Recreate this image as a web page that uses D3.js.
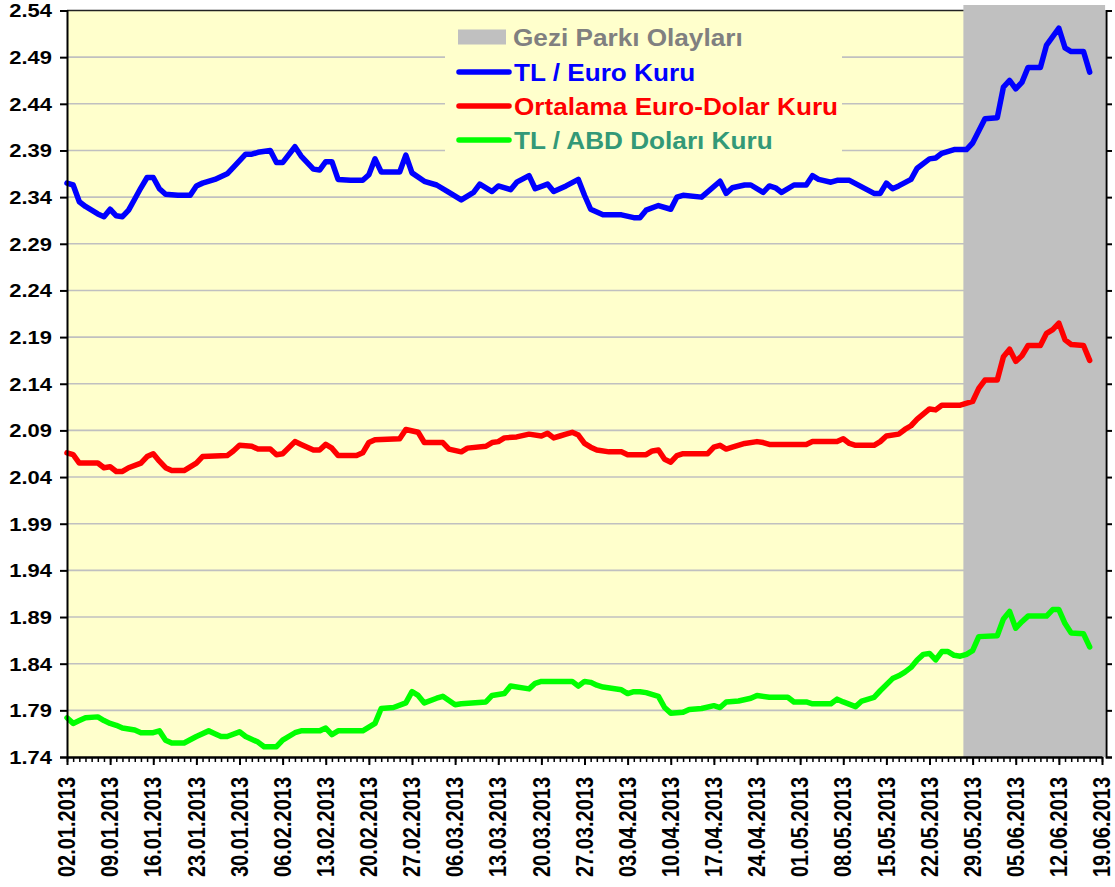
<!DOCTYPE html>
<html>
<head>
<meta charset="utf-8">
<script src="https://cdn.jsdelivr.net/npm/d3@7"></script>
<style>
  body { margin: 0; background: #fff; }
  svg { display: block; font-family: "Liberation Sans", Arial, sans-serif; }
</style>
</head>
<body>
<svg id="chart"></svg>
<script>
// values, one point per visible vertex (2013)
const euroDates = ["02.01","03.01","04.01","05.01","06.01","07.01","08.01","09.01","10.01","11.01","12.01","13.01","14.01","15.01","16.01","17.01","18.01","20.01","22.01","23.01","24.01","26.01","28.01","29.01","31.01","01.02","02.02","04.02","05.02","06.02","08.02","09.02","11.02","12.02","13.02","14.02","15.02","17.02","19.02","20.02","21.02","22.02","25.02","26.02","27.02","01.03","03.03","05.03","07.03","09.03","10.03","12.03","13.03","15.03","16.03","18.03","19.03","21.03","22.03","24.03","26.03","27.03","28.03","30.03","02.04","04.04","05.04","06.04","08.04","10.04","11.04","12.04","15.04","18.04","19.04","20.04","22.04","23.04","25.04","26.04","27.04","28.04","30.04","02.05","03.05","04.05","06.05","07.05","09.05","11.05","13.05","14.05","15.05","16.05","17.05","19.05","20.05","22.05","23.05","24.05","26.05","28.05","29.05","31.05","02.06","03.06","04.06","05.06","06.06","07.06","09.06","10.06","11.06","12.06","13.06","14.06","16.06","17.06"];
const euroValues = [2.355,2.353,2.335,2.330,2.326,2.322,2.319,2.327,2.320,2.319,2.326,2.338,2.350,2.361,2.361,2.349,2.343,2.342,2.342,2.352,2.355,2.359,2.365,2.372,2.386,2.386,2.388,2.390,2.377,2.377,2.394,2.384,2.370,2.369,2.378,2.378,2.359,2.358,2.358,2.364,2.381,2.367,2.367,2.385,2.366,2.357,2.353,2.345,2.337,2.345,2.354,2.346,2.352,2.348,2.356,2.363,2.349,2.354,2.346,2.352,2.359,2.342,2.327,2.321,2.321,2.318,2.318,2.326,2.331,2.327,2.340,2.342,2.340,2.357,2.344,2.350,2.353,2.353,2.345,2.352,2.350,2.345,2.353,2.353,2.363,2.359,2.356,2.358,2.358,2.351,2.344,2.344,2.355,2.349,2.352,2.359,2.371,2.381,2.382,2.387,2.391,2.391,2.398,2.424,2.425,2.458,2.465,2.456,2.463,2.479,2.479,2.503,2.512,2.521,2.500,2.496,2.496,2.474];

const eurUsdDates = ["02.01","03.01","04.01","07.01","08.01","09.01","10.01","11.01","12.01","14.01","15.01","16.01","17.01","18.01","19.01","21.01","23.01","24.01","28.01","29.01","30.01","01.02","02.02","04.02","05.02","06.02","08.02","09.02","11.02","12.02","13.02","14.02","15.02","18.02","19.02","20.02","21.02","25.02","26.02","28.02","01.03","04.03","05.03","07.03","08.03","11.03","12.03","13.03","14.03","16.03","18.03","20.03","21.03","22.03","23.03","24.03","25.03","26.03","27.03","28.03","29.03","31.03","02.04","03.04","06.04","07.04","08.04","09.04","10.04","11.04","12.04","16.04","17.04","18.04","19.04","20.04","22.04","24.04","25.04","26.04","02.05","03.05","07.05","08.05","09.05","10.05","13.05","14.05","15.05","17.05","18.05","19.05","20.05","22.05","23.05","24.05","27.05","29.05","30.05","31.05","02.06","03.06","04.06","05.06","06.06","07.06","09.06","10.06","11.06","12.06","13.06","14.06","16.06","17.06"];
const eurUsdValues = [2.066,2.064,2.055,2.055,2.050,2.051,2.046,2.046,2.050,2.055,2.062,2.065,2.057,2.050,2.047,2.047,2.055,2.062,2.063,2.068,2.074,2.073,2.070,2.070,2.064,2.065,2.078,2.075,2.069,2.069,2.075,2.071,2.063,2.063,2.066,2.077,2.080,2.081,2.091,2.088,2.077,2.077,2.070,2.067,2.071,2.073,2.077,2.078,2.082,2.083,2.086,2.084,2.087,2.082,2.084,2.086,2.088,2.085,2.076,2.072,2.069,2.067,2.067,2.064,2.064,2.068,2.069,2.059,2.056,2.063,2.065,2.065,2.072,2.074,2.070,2.072,2.076,2.078,2.077,2.075,2.075,2.078,2.078,2.081,2.076,2.074,2.074,2.078,2.084,2.086,2.091,2.095,2.102,2.113,2.112,2.117,2.117,2.121,2.135,2.144,2.144,2.169,2.177,2.164,2.170,2.181,2.181,2.194,2.198,2.205,2.187,2.182,2.181,2.165];

const usdDates = ["02.01","03.01","04.01","05.01","07.01","08.01","09.01","10.01","11.01","13.01","14.01","16.01","17.01","18.01","19.01","21.01","23.01","25.01","26.01","27.01","28.01","30.01","31.01","02.02","03.02","05.02","06.02","08.02","09.02","12.02","13.02","14.02","15.02","19.02","21.02","22.02","24.02","26.02","27.02","28.02","01.03","03.03","04.03","06.03","07.03","11.03","12.03","14.03","15.03","18.03","19.03","20.03","25.03","26.03","27.03","28.03","29.03","30.03","02.04","03.04","04.04","05.04","06.04","08.04","09.04","10.04","12.04","13.04","15.04","17.04","18.04","19.04","21.04","23.04","24.04","26.04","29.04","30.04","02.05","03.05","06.05","07.05","08.05","10.05","11.05","13.05","14.05","16.05","17.05","18.05","19.05","20.05","21.05","22.05","23.05","24.05","25.05","26.05","27.05","28.05","29.05","30.05","02.06","03.06","04.06","05.06","06.06","07.06","10.06","11.06","12.06","13.06","14.06","16.06","17.06"];
const usdValues = [1.782,1.776,1.779,1.782,1.783,1.779,1.776,1.774,1.771,1.769,1.766,1.766,1.768,1.758,1.755,1.755,1.762,1.768,1.765,1.762,1.762,1.767,1.762,1.756,1.751,1.751,1.758,1.766,1.768,1.768,1.771,1.764,1.768,1.768,1.776,1.792,1.793,1.798,1.810,1.806,1.798,1.803,1.805,1.796,1.797,1.799,1.806,1.808,1.816,1.813,1.819,1.821,1.821,1.816,1.821,1.820,1.817,1.815,1.812,1.808,1.810,1.810,1.809,1.805,1.793,1.787,1.788,1.791,1.792,1.795,1.793,1.799,1.800,1.803,1.806,1.804,1.804,1.799,1.799,1.797,1.797,1.802,1.799,1.794,1.800,1.804,1.811,1.824,1.827,1.831,1.836,1.844,1.850,1.851,1.844,1.853,1.853,1.849,1.848,1.850,1.854,1.869,1.870,1.888,1.896,1.878,1.885,1.891,1.891,1.898,1.898,1.883,1.873,1.872,1.858];

const geziPeriod = ["28.05", "19.06"];
const yTicks = [1.74,1.79,1.84,1.89,1.94,1.99,2.04,2.09,2.14,2.19,2.24,2.29,2.34,2.39,2.44,2.49,2.54];
const xTickLabels = ["02.01.2013","09.01.2013","16.01.2013","23.01.2013","30.01.2013","06.02.2013","13.02.2013","20.02.2013","27.02.2013","06.03.2013","13.03.2013","20.03.2013","27.03.2013","03.04.2013","10.04.2013","17.04.2013","24.04.2013","01.05.2013","08.05.2013","15.05.2013","22.05.2013","29.05.2013","05.06.2013","12.06.2013","19.06.2013"];

const seriesNames = ["TL / Euro Kuru", "Ortalama Euro-Dolar Kuru", "TL / ABD Doları Kuru"];
const bandName = "Gezi Parkı Olayları";

const width = 1115, height = 887;
const plot = { left: 67, right: 1105, top: 10.5, bottom: 757 };

const parse = d3.utcParse("%d.%m.%Y");
const day = s => parse(s.length > 5 ? s : s + ".2013");

const svg = d3.select("#chart").attr("width", width).attr("height", height)
  .style("background", "#fff");

const x = d3.scaleUtc()
  .domain([day("02.01"), day("19.06")])
  .range([plot.left, 1102]);
const halfDay = (x(day("03.01")) - x(day("02.01"))) / 2;

const y = d3.scaleLinear()
  .domain([1.74, 2.54])
  .range([plot.bottom, plot.top]);

// plot background
svg.append("rect")
  .attr("x", plot.left).attr("y", plot.top)
  .attr("width", plot.right - plot.left).attr("height", plot.bottom - plot.top)
  .attr("fill", "#ffffcc");

// grid
svg.append("g")
  .selectAll("line")
  .data(yTicks.slice(1, -1))
  .enter().append("line")
  .attr("x1", plot.left).attr("x2", plot.right)
  .attr("y1", d => y(d)).attr("y2", d => y(d))
  .attr("stroke", "#c0c0c0").attr("stroke-width", 1.6);

// top border
svg.append("line")
  .attr("x1", plot.left).attr("x2", plot.right)
  .attr("y1", plot.top).attr("y2", plot.top)
  .attr("stroke", "#222").attr("stroke-width", 1.5);

// gezi band
const bandX0 = x(day(geziPeriod[0])) - halfDay;
const bandX1 = x(day(geziPeriod[1])) + halfDay;
svg.append("rect")
  .attr("x", bandX0).attr("y", plot.top - 5.5)
  .attr("width", bandX1 - bandX0).attr("height", plot.bottom - plot.top + 5.5)
  .attr("fill", "#c0c0c0");

// lines
const series = [
  { dates: euroDates, values: euroValues, color: "#0000ff" },
  { dates: eurUsdDates, values: eurUsdValues, color: "#ff0000" },
  { dates: usdDates, values: usdValues, color: "#00ff00" }
];
const line = d3.line().x(d => x(d[0])).y(d => y(d[1]));

svg.append("g")
  .selectAll("path")
  .data(series)
  .enter().append("path")
  .attr("d", s => line(s.dates.map((dt, i) => [day(dt), s.values[i]])))
  .attr("fill", "none")
  .attr("stroke", s => s.color)
  .attr("stroke-width", 5.5)
  .attr("stroke-linejoin", "round")
  .attr("stroke-linecap", "round");

// legend
const legend = svg.append("g");
legend.append("rect")
  .attr("x", 445).attr("y", 16).attr("width", 397).attr("height", 142)
  .attr("fill", "#ffffcc");

const legendItems = [
  { label: bandName, color: "#c0c0c0", text: "#808080", box: true },
  { label: seriesNames[0], color: "#0000ff", text: "#0000ff" },
  { label: seriesNames[1], color: "#ff0000", text: "#ff0000" },
  { label: seriesNames[2], color: "#00ff00", text: "#339977" }
];
const legendY = [37, 72, 106, 140];

legendItems.forEach((it, i) => {
  const ly = legendY[i];
  if (it.box) {
    legend.append("rect").attr("x", 458).attr("y", ly - 7.5)
      .attr("width", 48).attr("height", 15).attr("fill", it.color);
  } else {
    legend.append("line").attr("x1", 459).attr("x2", 509)
      .attr("y1", ly).attr("y2", ly)
      .attr("stroke", it.color).attr("stroke-width", 5.5)
      .attr("stroke-linecap", "round");
  }
  legend.append("text")
    .attr("transform", `translate(${i === 0 ? 513 : 514},${ly}) scale(1.09,1)`)
    .attr("dominant-baseline", "central")
    .style("font-size", "24px").style("font-weight", "bold")
    .attr("fill", it.text)
    .text(it.label);
});

// left axis
const yAxis = svg.append("g")
  .attr("transform", `translate(${plot.left},0)`)
  .call(d3.axisLeft(y).tickValues(yTicks).tickSize(7).tickFormat(d3.format(".2f")));
yAxis.select(".domain").attr("stroke", "#000").attr("stroke-width", 2);
yAxis.selectAll(".tick line").attr("stroke", "#000").attr("stroke-width", 2);
yAxis.selectAll(".tick text")
  .attr("x", -15 / 1.22).attr("dy", "0.36em")
  .attr("transform", "scale(1.22,1)")
  .style("font-size", "18px").style("font-weight", "bold")
  .style("font-family", "'Liberation Sans', Arial, sans-serif")
  .attr("fill", "#000");

// right axis, no labels
const yAxisR = svg.append("g")
  .attr("transform", `translate(${plot.right + 1},0)`)
  .call(d3.axisRight(y).tickValues(yTicks).tickSize(6).tickFormat(""));
yAxisR.select(".domain").attr("stroke", "#000").attr("stroke-width", 2);
yAxisR.selectAll(".tick line").attr("stroke", "#000").attr("stroke-width", 2);

// bottom axis: daily minor ticks, weekly major ticks
const allDays = d3.utcDay.range(day("02.01"), d3.utcDay.offset(day("19.06"), 1));
const xMinor = svg.append("g")
  .attr("transform", `translate(0,${plot.bottom})`)
  .call(d3.axisBottom(x).tickValues(allDays).tickSize(5).tickFormat("").tickSizeOuter(0));
xMinor.select(".domain").attr("stroke", "#000").attr("stroke-width", 2.5);
xMinor.selectAll(".tick line").attr("stroke", "#000").attr("stroke-width", 1.5);

const majorDates = xTickLabels.map(day);
const xMajor = svg.append("g")
  .attr("transform", `translate(0,${plot.bottom})`)
  .call(d3.axisBottom(x).tickValues(majorDates).tickSize(8).tickFormat(""));
xMajor.select(".domain").remove();
xMajor.selectAll(".tick line").attr("stroke", "#000").attr("stroke-width", 2);

svg.append("g")
  .selectAll("text")
  .data(xTickLabels)
  .enter().append("text")
  .attr("transform", d => `translate(${x(day(d))},777) rotate(-90) scale(1,1.22)`)
  .attr("text-anchor", "end")
  .attr("dominant-baseline", "central")
  .style("font-size", "20px").style("font-weight", "bold")
  .attr("fill", "#000")
  .text(d => d);
</script>
</body>
</html>
